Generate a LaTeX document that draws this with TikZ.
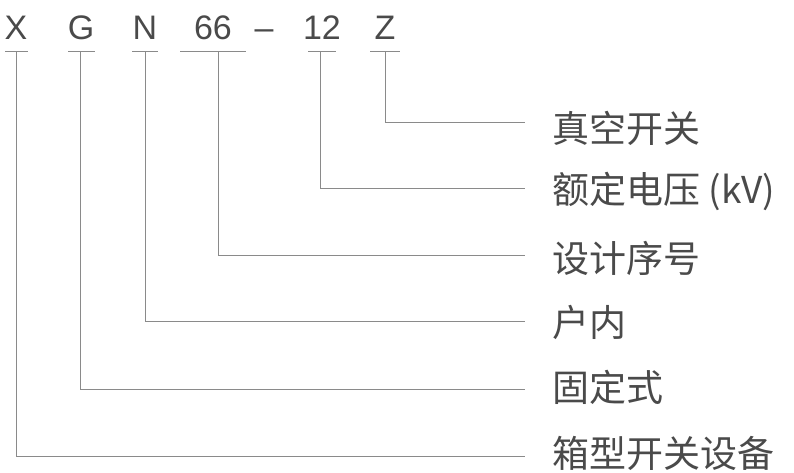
\documentclass[tikz,border=0pt]{standalone}
\usepackage{fontspec}
\setmainfont{Liberation Sans}
\newfontfamily\cjk{Noto Sans CJK SC}
\definecolor{tx}{HTML}{4A4A4A}
\definecolor{ln}{HTML}{8A8A8A}
\begin{document}
\begin{tikzpicture}[x=1pt,y=-1pt,
  code/.style={font=\fontsize{34}{34}\selectfont,text=tx,anchor=base,inner sep=0},
  lab/.style={font=\cjk\fontsize{37}{37}\selectfont,text=tx,anchor=west,inner sep=0},
  ln/.style={draw=ln,line width=1pt}]
\useasboundingbox (0,0) rectangle (794,473);
\node[code] (x) at (16,40) {X};
\node[code] (g) at (81,40) {G};
\node[code] (n) at (145,40) {N};
\node[code] (s) at (213,40) {66};
\node[code] (d) at (264,40) {–};
\node[code] (t) at (322,40) {12};
\node[code] (z) at (385,40) {Z};
\foreach \a/\b in {5/28,68/95,132/158,180/246,308/336,370/400}
  \draw[ln] (\a,52) -- (\b,52);
\node[lab] (l1) at (552,128) {真空开关};
\node[lab] (l2) at (552,191) {额定电压 (kV)};
\node[lab] (l3) at (552,258) {设计序号};
\node[lab] (l4) at (552,322) {户内};
\node[lab] (l5) at (552,387) {固定式};
\node[lab] (l6) at (552,453) {箱型开关设备};
\draw[ln] (385,52) |- (525,123);
\draw[ln] (320,52) |- (525,188);
\draw[ln] (218,52) |- (525,255);
\draw[ln] (145,52) |- (525,321);
\draw[ln] (80,52) |- (525,389);
\draw[ln] (16,52) |- (525,456);
\end{tikzpicture}
\end{document}
